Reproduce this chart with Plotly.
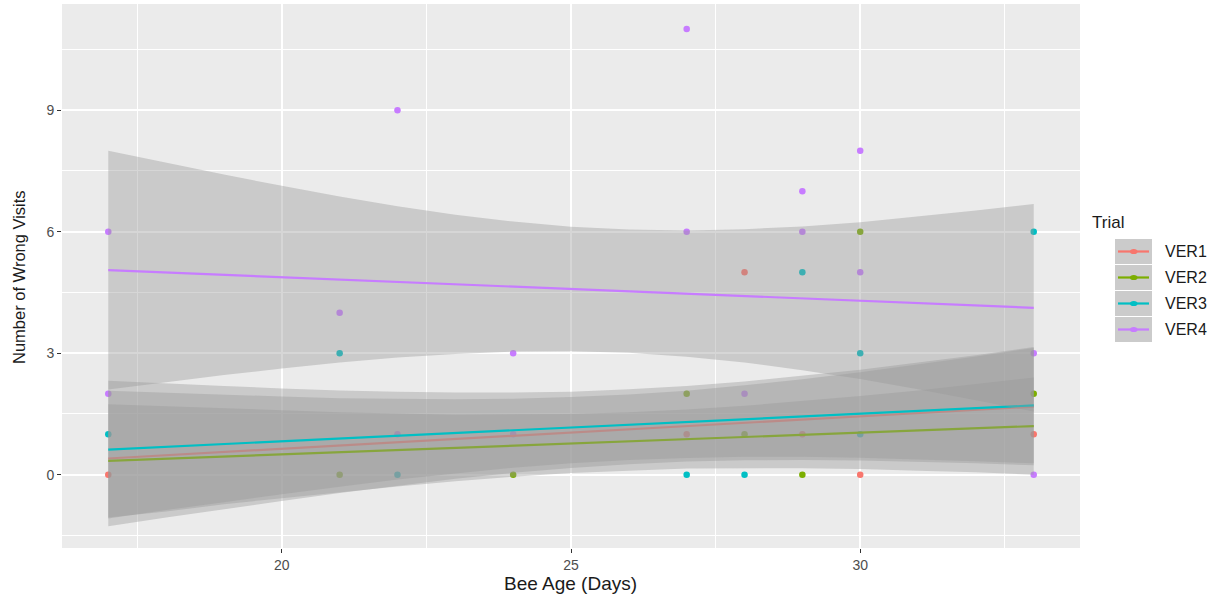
import plotly.graph_objects as go

# ---------------- data ----------------
trials = ["VER1", "VER2", "VER3", "VER4"]
colors = ["#F8766D", "#7CAE00", "#00BFC4", "#C77CFF"]

ver1_x = [17, 27, 28, 29, 30, 33]
ver1_y = [0, 1, 5, 1, 0, 1]
ver2_x = [21, 24, 27, 28, 29, 30, 33]
ver2_y = [0, 0, 2, 1, 0, 6, 2]
ver3_x = [17, 21, 22, 27, 28, 29, 30, 30, 33]
ver3_y = [1, 3, 0, 0, 0, 5, 3, 1, 6]
ver4_x = [17, 17, 21, 22, 22, 24, 24, 27, 27, 28, 29, 29, 30, 30, 33, 33]
ver4_y = [6, 2, 4, 9, 1, 3, 1, 11, 6, 2, 7, 6, 8, 5, 3, 0]

# fitted lines (endpoints at x=17 and x=33)
fit_x = [17, 33]
ver1_fit = [0.40, 1.68]
ver2_fit = [0.34, 1.20]
ver3_fit = [0.62, 1.71]
ver4_fit = [5.05, 4.12]

# confidence ribbons sampled along x
band_x = [17, 18, 19, 20, 21, 22, 23, 24, 25, 26, 27, 28, 29, 30, 31, 32, 33]
ver1_hi = [2.07, 2.02, 1.97, 1.93, 1.89, 1.87, 1.86, 1.875, 1.915, 1.98, 2.075, 2.205, 2.355, 2.53, 2.72, 2.92, 3.13]
ver1_lo = [-1.27, -1.06, -0.85, -0.65, -0.45, -0.27, -0.10, 0.045, 0.165, 0.26, 0.325, 0.355, 0.365, 0.35, 0.32, 0.28, 0.23]
ver2_hi = [1.74, 1.69, 1.63, 1.58, 1.54, 1.51, 1.48, 1.49, 1.50, 1.54, 1.61, 1.70, 1.82, 1.94, 2.08, 2.24, 2.40]
ver2_lo = [-1.06, -0.91, -0.73, -0.58, -0.43, -0.29, -0.16, -0.05, 0.04, 0.10, 0.15, 0.16, 0.16, 0.14, 0.10, 0.06, 0.00]
ver3_hi = [2.32, 2.25, 2.19, 2.13, 2.08, 2.05, 2.03, 2.03, 2.05, 2.11, 2.19, 2.30, 2.44, 2.59, 2.77, 2.95, 3.15]
ver3_lo = [-1.08, -0.87, -0.68, -0.48, -0.30, -0.12, 0.03, 0.17, 0.28, 0.36, 0.41, 0.44, 0.44, 0.42, 0.38, 0.33, 0.28]
ver4_hi = [8.00, 7.70, 7.41, 7.13, 6.87, 6.63, 6.42, 6.25, 6.12, 6.05, 6.03, 6.06, 6.13, 6.23, 6.37, 6.52, 6.68]
ver4_lo = [2.10, 2.28, 2.46, 2.62, 2.77, 2.89, 2.98, 3.04, 3.05, 3.01, 2.91, 2.77, 2.58, 2.36, 2.11, 1.84, 1.56]

x_ticks = [20, 25, 30]
y_ticks = [0, 3, 6, 9]

points = [(ver1_x, ver1_y), (ver2_x, ver2_y), (ver3_x, ver3_y), (ver4_x, ver4_y)]
fits = [ver1_fit, ver2_fit, ver3_fit, ver4_fit]
bands = [(ver1_hi, ver1_lo), (ver2_hi, ver2_lo), (ver3_hi, ver3_lo), (ver4_hi, ver4_lo)]

# ---------------- figure ----------------
W, H = 1221, 598
L, R, T, B = 62, 1080, 4, 548
FONT = "Liberation Sans, Arial"

fig = go.Figure()

# points first (ribbons are drawn over them, as in ggplot)
for name, col, (px, py) in zip(trials, colors, points):
    fig.add_trace(go.Scatter(x=px, y=py, mode="markers", name=name,
                             marker=dict(color=col, size=6.5, line=dict(width=0)),
                             showlegend=False, hoverinfo="x+y+name"))

# ribbon + line per trial
for name, col, f, (hi, lo) in zip(trials, colors, fits, bands):
    fig.add_trace(go.Scatter(x=band_x + band_x[::-1], y=hi + lo[::-1],
                             fill="toself", fillcolor="rgba(153,153,153,0.4)",
                             line=dict(width=0), mode="lines",
                             showlegend=False, hoverinfo="skip"))
    fig.add_trace(go.Scatter(x=fit_x, y=f, mode="lines", name=name,
                             line=dict(color=col, width=2.2),
                             showlegend=False))


def pxx(p):
    return (p - L) / (R - L)


def pxy(p):
    return (B - p) / (B - T)


shapes = []
annotations = []

# legend drawn by hand (ggplot style keys)
annotations.append(dict(text="Trial", x=pxx(1090), y=pxy(222), xref="paper", yref="paper",
                        xanchor="left", yanchor="middle", showarrow=False,
                        font=dict(size=17, color="#1a1a1a", family=FONT)))
key_tops = [239, 265, 291, 317]
for name, col, top in zip(trials, colors, key_tops):
    shapes.append(dict(type="rect", xref="paper", yref="paper",
                       x0=pxx(1115), x1=pxx(1152), y0=pxy(top), y1=pxy(top + 25),
                       fillcolor="#CBCBCB", line=dict(width=0), layer="above"))
    cy = top + 12.5
    shapes.append(dict(type="line", xref="paper", yref="paper",
                       x0=pxx(1118), x1=pxx(1149), y0=pxy(cy), y1=pxy(cy),
                       line=dict(color=col, width=2.2), layer="above"))
    shapes.append(dict(type="circle", xref="paper", yref="paper",
                       x0=pxx(1130), x1=pxx(1137.5), y0=pxy(cy - 2.6), y1=pxy(cy + 2.6),
                       fillcolor=col, line=dict(width=0), layer="above"))
    annotations.append(dict(text=name, x=pxx(1163), y=pxy(cy), xref="paper", yref="paper",
                            xanchor="left", yanchor="middle", showarrow=False,
                            font=dict(size=16, color="#1a1a1a", family=FONT)))

# axis titles
annotations.append(dict(text="Bee Age (Days)", x=pxx(570), y=pxy(583), xref="paper", yref="paper",
                        xanchor="center", yanchor="middle", showarrow=False,
                        font=dict(size=19, color="#1a1a1a", family=FONT)))
annotations.append(dict(text="Number of Wrong Visits", x=pxx(19), y=pxy(277), xref="paper", yref="paper",
                        xanchor="center", yanchor="middle", showarrow=False, textangle=-90,
                        font=dict(size=16.5, color="#1a1a1a", family=FONT)))

fig.update_layout(
    width=W, height=H, autosize=False,
    margin=dict(l=L, r=W - R, t=T, b=H - B, pad=0),
    paper_bgcolor="white", plot_bgcolor="#EBEBEB",
    shapes=shapes, annotations=annotations,
    showlegend=False,
    font=dict(family=FONT, color="#4D4D4D", size=13),
)
fig.update_xaxes(range=[16.2, 33.8], tickvals=x_ticks, ticktext=[str(v) for v in x_ticks],
                 showgrid=True, gridcolor="white", gridwidth=1.6, zeroline=False,
                 ticks="outside", ticklen=4, tickcolor="#333333", tickwidth=1,
                 tickfont=dict(size=14, color="#4D4D4D"), showline=False,
                 minor=dict(tickvals=[17.5, 22.5, 27.5, 32.5], showgrid=True,
                            gridcolor="white", gridwidth=0.8, ticks=""))
fig.update_yaxes(range=[-1.81, 11.62], tickvals=y_ticks, ticktext=[str(v) for v in y_ticks],
                 showgrid=True, gridcolor="white", gridwidth=1.6, zeroline=False,
                 ticks="outside", ticklen=4, tickcolor="#333333", tickwidth=1,
                 tickfont=dict(size=14, color="#4D4D4D"), showline=False,
                 minor=dict(tickvals=[-1.5, 1.5, 4.5, 7.5, 10.5], showgrid=True,
                            gridcolor="white", gridwidth=0.8, ticks=""))

fig.write_html("out.html", config={"displayModeBar": False},
               post_script="document.body.style.margin='0';document.body.style.overflow='hidden';")
